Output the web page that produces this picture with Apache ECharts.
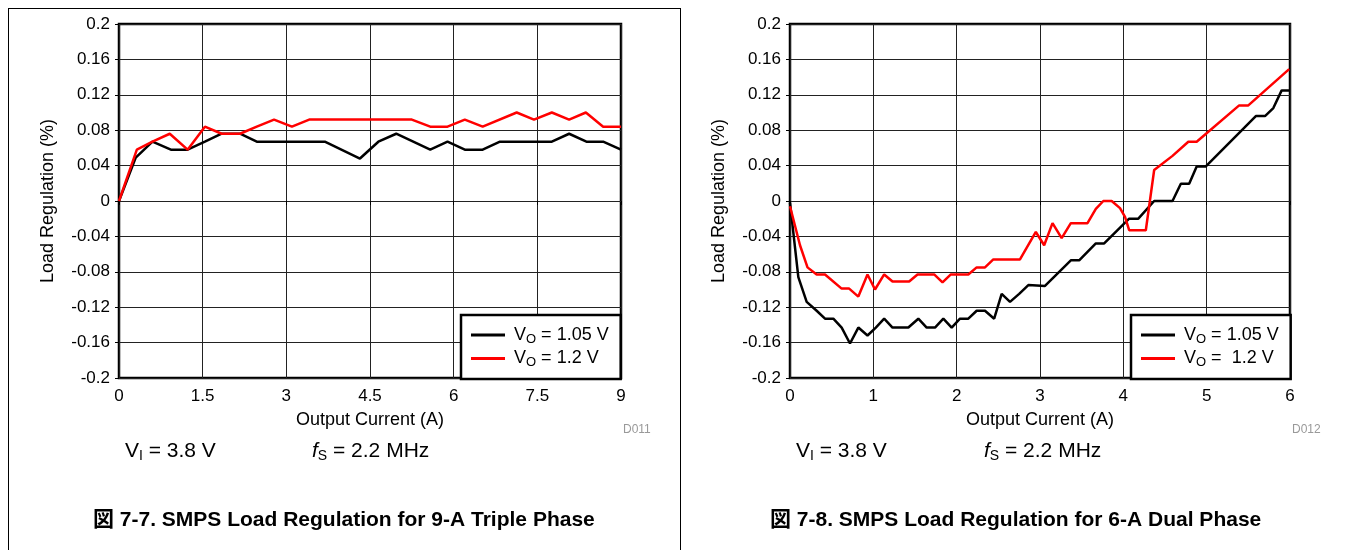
<!DOCTYPE html>
<html>
<head>
<meta charset="utf-8">
<script src="https://cdn.jsdelivr.net/npm/echarts@6/dist/echarts.min.js"></script>
<style>
  html, body { margin: 0; padding: 0; background: #fff; }
  #chart { width: 1351px; height: 550px; }
</style>
</head>
<body>
<div id="chart"></div>
<script>
// Fig 7-7 (9-A triple phase), corners of each trace
const tripleCurrent105 = [0, 0.30, 0.60, 0.93, 1.23, 1.54, 1.84, 2.17, 2.47, 3.69, 4.32, 4.65, 4.97, 5.58, 5.89, 6.20, 6.52, 6.83, 7.76, 8.07, 8.38, 8.68, 9.0];
const tripleReg105 = [0, 0.049, 0.067, 0.058, 0.058, 0.067, 0.076, 0.076, 0.067, 0.067, 0.048, 0.067, 0.076, 0.058, 0.067, 0.058, 0.058, 0.067, 0.067, 0.076, 0.067, 0.067, 0.058];
const tripleCurrent12 = [0, 0.32, 0.60, 0.91, 1.23, 1.54, 1.84, 2.17, 2.47, 2.78, 3.10, 3.41, 5.25, 5.58, 5.89, 6.20, 6.52, 7.13, 7.44, 7.76, 8.07, 8.37, 8.68, 9.0];
const tripleReg12 = [0, 0.058, 0.067, 0.076, 0.058, 0.084, 0.076, 0.076, 0.084, 0.092, 0.084, 0.092, 0.092, 0.084, 0.084, 0.092, 0.084, 0.100, 0.092, 0.100, 0.092, 0.100, 0.084, 0.084];

// Fig 7-8 (6-A dual phase)
const dualCurrent105 = [0, 0.10, 0.20, 0.32, 0.42, 0.52, 0.62, 0.72, 0.82, 0.93, 1.03, 1.13, 1.23, 1.42, 1.54, 1.64, 1.74, 1.84, 1.94, 2.04, 2.14, 2.24, 2.34, 2.45, 2.54, 2.64, 2.75, 2.86, 3.06, 3.37, 3.47, 3.67, 3.77, 4.07, 4.18, 4.37, 4.59, 4.69, 4.79, 4.88, 4.99, 5.59, 5.70, 5.80, 5.90, 5.99];
const dualReg105 = [-0.002, -0.086, -0.114, -0.124, -0.133, -0.133, -0.143, -0.161, -0.143, -0.152, -0.143, -0.133, -0.143, -0.143, -0.133, -0.143, -0.143, -0.133, -0.143, -0.133, -0.133, -0.124, -0.124, -0.133, -0.105, -0.114, -0.105, -0.095, -0.096, -0.067, -0.067, -0.048, -0.048, -0.020, -0.020, 0, 0, 0.0195, 0.0195, 0.039, 0.039, 0.096, 0.096, 0.105, 0.125, 0.125];
const dualCurrent12 = [0, 0.12, 0.21, 0.32, 0.42, 0.62, 0.71, 0.82, 0.93, 1.02, 1.13, 1.23, 1.43, 1.53, 1.73, 1.83, 1.93, 2.14, 2.24, 2.34, 2.44, 2.76, 2.95, 3.05, 3.15, 3.26, 3.37, 3.57, 3.67, 3.76, 3.86, 3.96, 4.02, 4.07, 4.27, 4.37, 4.59, 4.78, 4.88, 5.39, 5.50, 5.99];
const dualReg12 = [-0.006, -0.050, -0.075, -0.083, -0.083, -0.099, -0.099, -0.108, -0.083, -0.100, -0.083, -0.091, -0.091, -0.083, -0.083, -0.092, -0.083, -0.083, -0.075, -0.075, -0.066, -0.066, -0.035, -0.050, -0.025, -0.042, -0.025, -0.025, -0.009, 0, 0, -0.008, -0.018, -0.033, -0.033, 0.035, 0.051, 0.067, 0.067, 0.108, 0.108, 0.149];

const names = ['VO = 1.05 V', 'VO = 1.2 V', 'VO =  1.2 V'];

const FONT = '"Liberation Sans", Arial, sans-serif';
const zip = (xs, ys) => xs.map((x, i) => [x, ys[i]]);

const chart = echarts.init(document.getElementById('chart'));

function xAxisFor(grid, max, step) {
    return {
        type: 'value', gridIndex: grid, min: 0, max: max, interval: step,
        name: 'Output Current (A)', nameLocation: 'middle', nameGap: 33,
        nameTextStyle: { fontFamily: FONT, fontSize: 18, color: '#000' },
        axisLine: { show: false },
        axisTick: { show: true, length: 4, lineStyle: { color: '#000' } },
        axisLabel: { fontFamily: FONT, fontSize: 17, color: '#000', margin: 10 },
        splitLine: { show: true, lineStyle: { color: '#222', width: 1 } }
    };
}
function yAxisFor(grid) {
    return {
        type: 'value', gridIndex: grid, min: -0.2, max: 0.2, interval: 0.04,
        name: 'Load Regulation (%)', nameLocation: 'middle', nameGap: 62,
        nameTextStyle: { fontFamily: FONT, fontSize: 18, color: '#000' },
        axisLine: { show: false },
        axisTick: { show: true, length: 4, lineStyle: { color: '#000' } },
        axisLabel: {
            fontFamily: FONT, fontSize: 17, color: '#000', margin: 9,
            formatter: v => String(parseFloat(v.toFixed(2)))
        },
        splitLine: { show: true, lineStyle: { color: '#222', width: 1 } }
    };
}
function legendFor(left, items) {
    return {
        data: items, orient: 'vertical', left: left, top: 315,
        padding: [11, 12, 10, 10], itemGap: 4,
        icon: 'rect', itemWidth: 34, itemHeight: 3,
        borderColor: '#000', borderWidth: 2.5, borderRadius: 0,
        backgroundColor: '#fff',
        textStyle: {
            fontFamily: FONT, fontSize: 18, color: '#000',
            rich: {
                n: { fontFamily: FONT, fontSize: 18, color: '#000', padding: [0, 0, 0, 4] },
                s: { fontFamily: FONT, fontSize: 13, color: '#000', padding: [8, 0, 0, 0] },
                r: { fontFamily: FONT, fontSize: 18, color: '#000' }
            }
        },
        formatter: name => '{n|V}{s|O}{r|' + name.slice(2) + '}'
    };
}
function lineSeries(name, xi, yi, data, color) {
    return {
        name: name, type: 'line', xAxisIndex: xi, yAxisIndex: yi,
        data: data, symbol: 'none', animation: false,
        lineStyle: { color: color, width: 2.5 }, itemStyle: { color: color }
    };
}

const subRich = {
    n: { fontFamily: FONT, fontSize: 21, color: '#000' },
    s: { fontFamily: FONT, fontSize: 14, color: '#000', padding: [9, 0, 0, 0] },
    f: { fontFamily: FONT, fontSize: 21, color: '#000', fontStyle: 'italic' }
};
const captionStyle = { fontFamily: '"Liberation Sans", "Noto Sans CJK JP", sans-serif', fontSize: 21, fontWeight: 'bold', fill: '#000' };
const line = (x1, y1, x2, y2) => ({ type: 'line', shape: { x1, y1, x2, y2 }, style: { stroke: '#000', lineWidth: 1 }, silent: true });

const option = {
    animation: false,
    grid: [
        { left: 119, top: 24, width: 502, height: 354, show: true, borderColor: '#000', borderWidth: 2.5 },
        { left: 790, top: 24, width: 500, height: 354, show: true, borderColor: '#000', borderWidth: 2.5 }
    ],
    xAxis: [xAxisFor(0, 9, 1.5), xAxisFor(1, 6, 1)],
    yAxis: [yAxisFor(0), yAxisFor(1)],
    legend: [legendFor(461, [names[0], names[1]]), legendFor(1131, [names[0], names[2]])],
    series: [
        lineSeries(names[0], 0, 0, zip(tripleCurrent105, tripleReg105), '#000'),
        lineSeries(names[1], 0, 0, zip(tripleCurrent12, tripleReg12), '#ff0000'),
        lineSeries(names[0], 1, 1, zip(dualCurrent105, dualReg105), '#000'),
        lineSeries(names[2], 1, 1, zip(dualCurrent12, dualReg12), '#ff0000')
    ],
    graphic: [
        line(8, 8.5, 680, 8.5),
        line(8.5, 8, 8.5, 550),
        line(680.5, 8, 680.5, 550),
        { type: 'text', left: 623, top: 424, style: { text: 'D011', fontFamily: FONT, fontSize: 12, fill: '#999' } },
        { type: 'text', left: 1292, top: 424, style: { text: 'D012', fontFamily: FONT, fontSize: 12, fill: '#999' } },
        { type: 'text', left: 125, top: 441, style: { text: '{n|V}{s|I}{n| = 3.8 V}', rich: subRich } },
        { type: 'text', left: 312, top: 441, style: { text: '{f|f}{s|S}{n| = 2.2 MHz}', rich: subRich } },
        { type: 'text', left: 796, top: 441, style: { text: '{n|V}{s|I}{n| = 3.8 V}', rich: subRich } },
        { type: 'text', left: 984, top: 441, style: { text: '{f|f}{s|S}{n| = 2.2 MHz}', rich: subRich } },
        { type: 'text', left: 93, top: 510, style: Object.assign({ text: '図 7-7. SMPS Load Regulation for 9-A Triple Phase' }, captionStyle) },
        { type: 'text', left: 770, top: 510, style: Object.assign({ text: '図 7-8. SMPS Load Regulation for 6-A Dual Phase' }, captionStyle) }
    ]
};
chart.setOption(option);
</script>
</body>
</html>
